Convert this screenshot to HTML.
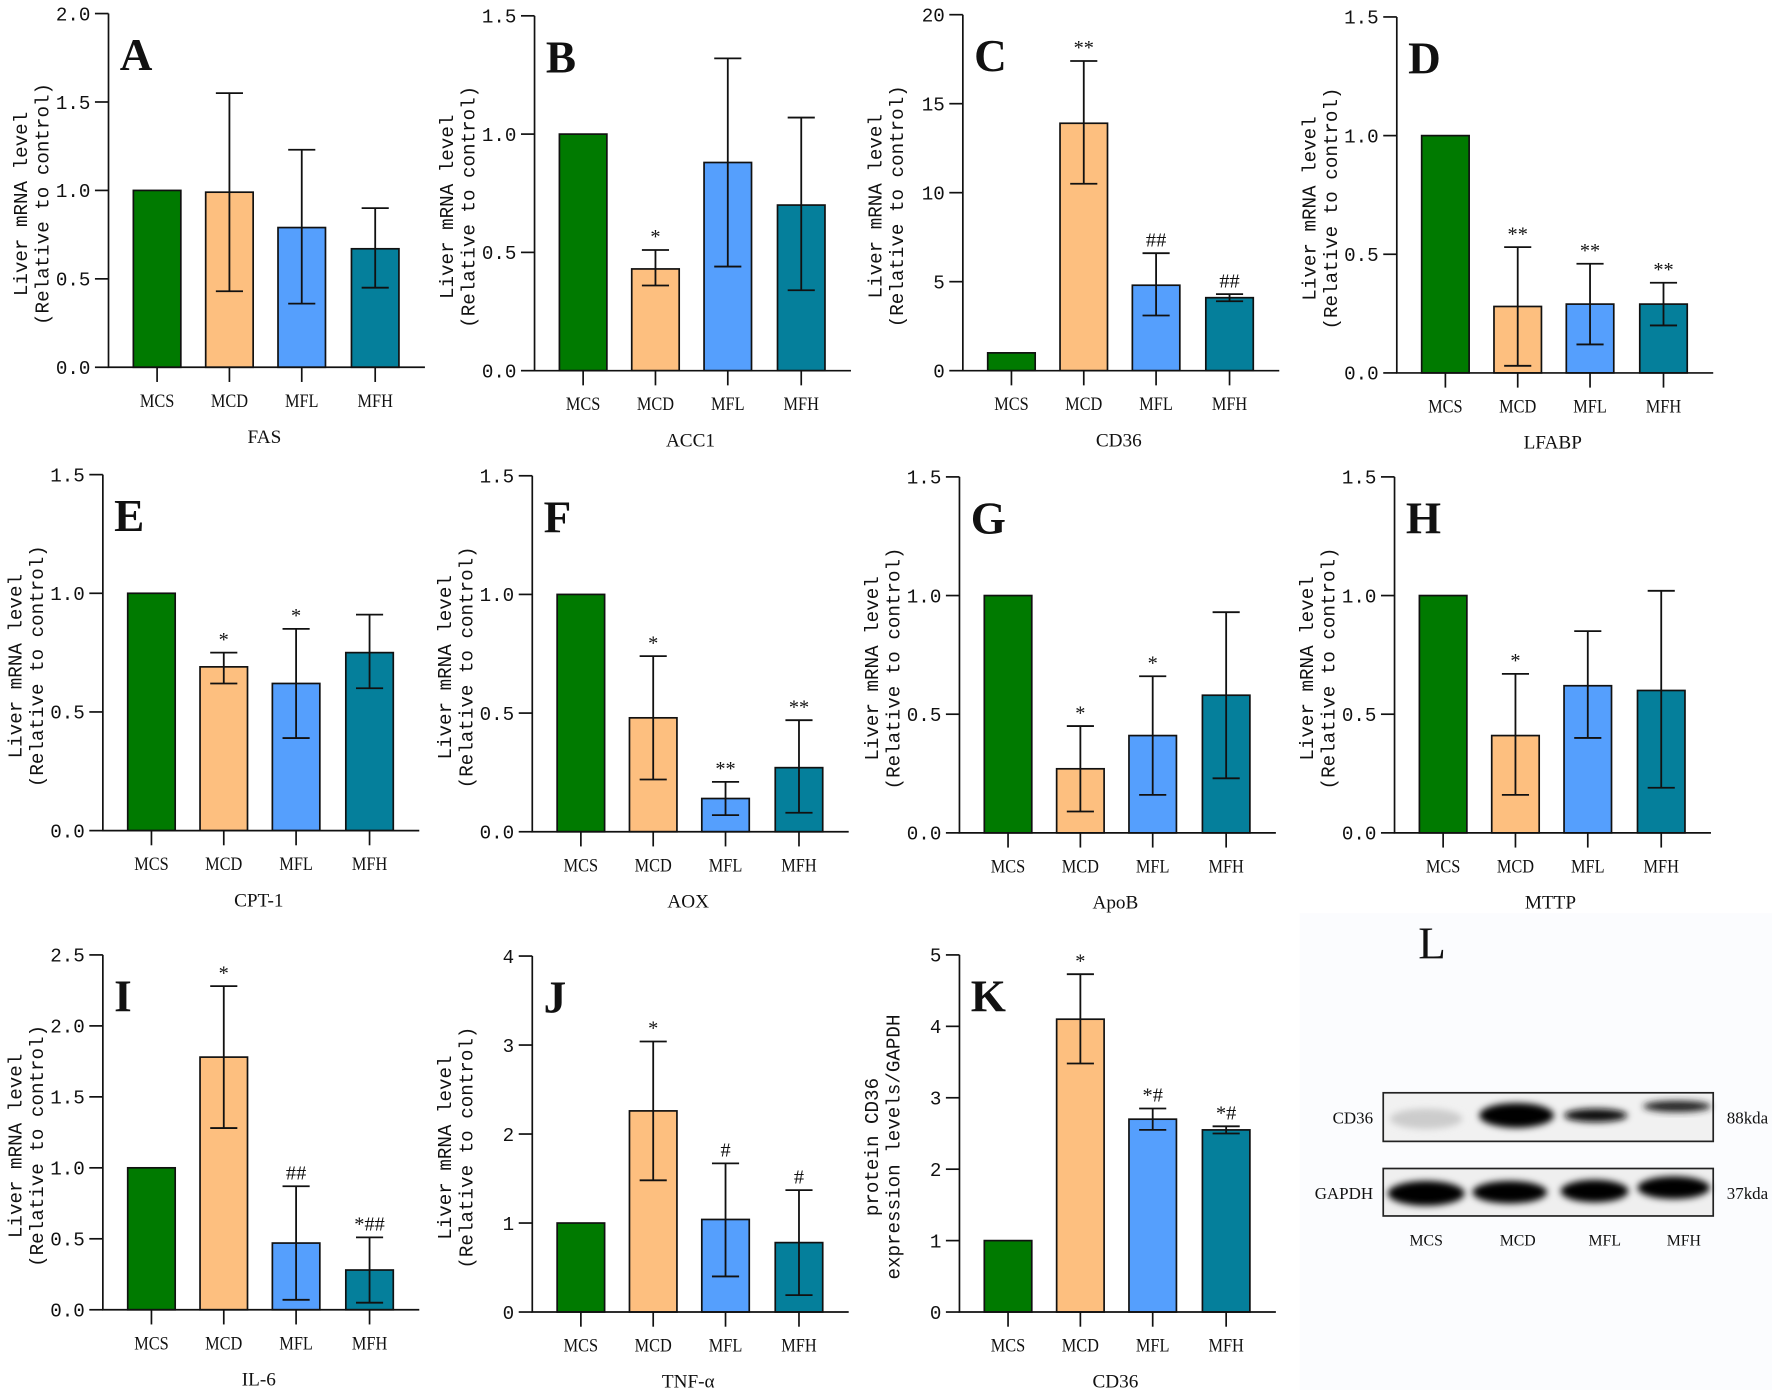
<!DOCTYPE html>
<html><head><meta charset="utf-8"><style>
html,body{margin:0;padding:0;background:#fff;}
svg{display:block;}
text{font-family:"Liberation Serif","Noto Serif CJK SC",serif;fill:#111;}
.mono{font-family:"Liberation Mono",monospace;}
</style></head><body>
<svg id="fig" width="1772" height="1390" viewBox="0 0 1568 1230" xmlns="http://www.w3.org/2000/svg">
<defs><filter id="blur" x="-20%" y="-50%" width="140%" height="200%"><feGaussianBlur stdDeviation="3"/></filter></defs>
<rect x="0" y="0" width="1568" height="1230" fill="#fff"/>
<rect x="1150" y="808" width="418" height="422" fill="#fbfcfe"/>
<g id="panels"></g>
<g>
<text x="1255" y="848" font-size="40">L</text>
<rect x="1224" y="967" width="292" height="43" fill="#f1f1f1" stroke="#222" stroke-width="1.5"/>
<ellipse cx="1262" cy="990" rx="32" ry="9" fill="#ccc" filter="url(#blur)"/>
<ellipse cx="1342" cy="987" rx="33" ry="11" fill="#000" filter="url(#blur)"/>
<ellipse cx="1412" cy="987" rx="28" ry="6" fill="#111" filter="url(#blur)"/>
<ellipse cx="1484" cy="979" rx="30" ry="5" fill="#222" filter="url(#blur)"/>
<rect x="1224" y="1034" width="292" height="42" fill="#efefef" stroke="#222" stroke-width="1.5"/>
<ellipse cx="1262" cy="1056" rx="34" ry="11" fill="#000" filter="url(#blur)"/>
<ellipse cx="1336" cy="1055" rx="33" ry="10" fill="#000" filter="url(#blur)"/>
<ellipse cx="1411" cy="1054" rx="30" ry="10" fill="#000" filter="url(#blur)"/>
<ellipse cx="1481" cy="1051" rx="32" ry="10" fill="#000" filter="url(#blur)"/>
<text x="1215" y="994" font-size="15" text-anchor="end">CD36</text>
<text x="1215" y="1061" font-size="15" text-anchor="end">GAPDH</text>
<text x="1528" y="994" font-size="15">88kda</text>
<text x="1528" y="1061" font-size="15">37kda</text>
<text x="1262" y="1102" font-size="14" text-anchor="middle">MCS</text>
<text x="1343" y="1102" font-size="14" text-anchor="middle">MCD</text>
<text x="1420" y="1102" font-size="14" text-anchor="middle">MFL</text>
<text x="1490" y="1102" font-size="14" text-anchor="middle">MFH</text>
</g>
</svg>
<script>
const categories = ["MCS","MCD","MFL","MFH"];
const panelLetters = ["A","B","C","D","E","F","G","H","I","J","K"];
const geneNames = ["FAS","ACC1","CD36","LFABP","CPT-1","AOX","ApoB","MTTP","IL-6","TNF-α","CD36"];
const axisMax = [2,1.5,20,1.5,1.5,1.5,1.5,1.5,2.5,4,5];
const axisStep = [0.5,0.5,5,0.5,0.5,0.5,0.5,0.5,0.5,1,1];
const tickDecimals = [1,1,0,1,1,1,1,1,1,0,0];
const panelMeans = [
 [1,0.99,0.79,0.67],[1,0.43,0.88,0.70],[1,13.9,4.8,4.1],[1,0.28,0.29,0.29],
 [1,0.69,0.62,0.75],[1,0.48,0.14,0.27],[1,0.27,0.41,0.58],[1,0.41,0.62,0.60],
 [1,1.78,0.47,0.28],[1,2.26,1.04,0.78],[1,4.1,2.7,2.55]];
const panelLows = [
 [null,0.43,0.36,0.45],[null,0.36,0.44,0.34],[null,10.5,3.1,3.9],[null,0.03,0.12,0.20],
 [null,0.62,0.39,0.60],[null,0.22,0.07,0.08],[null,0.09,0.16,0.23],[null,0.16,0.40,0.19],
 [null,1.28,0.07,0.05],[null,1.48,0.40,0.19],[null,3.48,2.55,2.5]];
const panelHighs = [
 [null,1.55,1.23,0.90],[null,0.51,1.32,1.07],[null,17.4,6.6,4.3],[null,0.53,0.46,0.38],
 [null,0.75,0.85,0.91],[null,0.74,0.21,0.47],[null,0.45,0.66,0.93],[null,0.67,0.85,1.02],
 [null,2.28,0.87,0.51],[null,3.04,1.67,1.37],[null,4.73,2.85,2.6]];
const panelMarks = [
 ["","","",""],["","*","",""],["","**","##","##"],["","**","**","**"],
 ["","*","*",""],["","*","**","**"],["","*","*",""],["","*","",""],
 ["","*","##","*##"],["","*","#","#"],["","*","*#","*#"]];
// layout (not data)
const layout = [
 {ax:96,y0:325,top:12},{ax:473,y0:328,top:14},{ax:852,y0:328,top:13},{ax:1236,y0:330,top:15},
 {ax:91,y0:735,top:420},{ax:471,y0:736,top:421},{ax:849,y0:737,top:422},{ax:1234,y0:737,top:422},
 {ax:91,y0:1159,top:845},{ax:471,y0:1161,top:846},{ax:849,y0:1161,top:845}];
const barOffsets=[43,107,171,236];
const colors=["#007a00","#fdbf7f","#559ffd","#057f9b"];
const NS="http://www.w3.org/2000/svg";
const root=document.getElementById('panels');
function mk(tag,attrs,parent){const e=document.createElementNS(NS,tag);for(const k in attrs)e.setAttribute(k,attrs[k]);parent.appendChild(e);return e;}
for(let p=0;p<layout.length;p++){
 const L=layout[p];
 const g=mk('g',{},root);
 
 
 const yS=v=>L.y0-(v/axisMax[p])*(L.y0-L.top);
 const xS=i=>L.ax+barOffsets[i];
 for(let i=0;i<4;i++){
  const v=panelMeans[p][i];
  const r=mk('rect',{x:xS(i)-21,y:yS(v),width:42,height:L.y0-yS(v),fill:colors[i],stroke:'#111','stroke-width':1.5},g);
  
  
  if(panelLows[p][i]!==null){
   const lo=yS(panelLows[p][i]),hi=yS(panelHighs[p][i]);
   const e=mk('path',{d:`M${xS(i)},${lo}V${hi}M${xS(i)-12},${hi}H${xS(i)+12}M${xS(i)-12},${lo}H${xS(i)+12}`,stroke:'#111','stroke-width':1.6,fill:'none'},g);
   
   
  }
  if(panelMarks[p][i]){
   const topv=panelHighs[p][i]!==null?panelHighs[p][i]:v;
   const t=mk('text',{x:xS(i),y:yS(topv)-6,'font-size':18,'text-anchor':'middle'},g);
   t.textContent=panelMarks[p][i];
   
   
  }
  const tk=mk('line',{x1:xS(i),x2:xS(i),y1:L.y0,y2:L.y0+13,stroke:'#111','stroke-width':1.5},g);
  
  
  const cl=mk('text',{x:xS(i),y:L.y0+35,'font-size':17,'text-anchor':'middle',transform:`translate(${xS(i)} 0) scale(0.85 1) translate(${-xS(i)} 0)`},g);
  cl.textContent=categories[i];
  
  
 }
 const ya=mk('path',{d:`M${L.ax},${L.top}V${L.y0}H${L.ax+280}`,stroke:'#111','stroke-width':1.5,fill:'none'},g);
 
 
 for(let v=0;v<=axisMax[p]+1e-9;v+=axisStep[p]){
  const y=yS(v);
  const tl=mk('line',{x1:L.ax-12,x2:L.ax,y1:y,y2:y,stroke:'#111','stroke-width':1.5},g);
  
  
  const tt=mk('text',{x:L.ax-16,y:y+6,'font-size':17,'text-anchor':'end','class':'mono'},g);
  tt.textContent=v.toFixed(tickDecimals[p]);
  
  
 }
 const mid=(L.top+L.y0)/2+12;
 const lines = p===10?["protein CD36","expression levels/GAPDH"]:["Liver mRNA level","(Relative to control)"];
 [L.ax-72,L.ax-53].forEach((x,k)=>{
  const t=mk('text',{x:x,y:mid,'font-size':17,'text-anchor':'middle','class':'mono',transform:`rotate(-90 ${x} ${mid})`},g);
  t.textContent=lines[k];
  
  
 });
 const xt=mk('text',{x:L.ax+138,y:L.y0+67,'font-size':17,'text-anchor':'middle'},g);
 xt.textContent=geneNames[p];
 
 
 const pl=mk('text',{x:L.ax+10,y:L.top+50,'font-size':40,'font-weight':'bold'},g);
 pl.textContent=panelLetters[p];
 
 
}
</script>
</body></html>
